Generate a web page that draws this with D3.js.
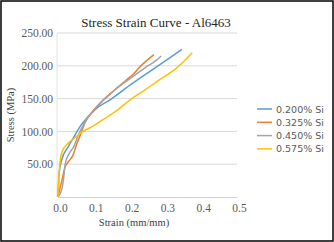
<!DOCTYPE html>
<html>
<head>
<meta charset="utf-8">
<script src="https://cdn.jsdelivr.net/npm/d3@7"></script>
<style>
  body { margin: 0; background: #fff; }
  svg { display: block; }
</style>
</head>
<body>
<svg width="334" height="242"></svg>
<script>
const width = 334;
const height = 242;

const seriesNames = ["0.200% Si", "0.325% Si", "0.450% Si", "0.575% Si"];
const seriesColors = ["#5b9bd5", "#ed7d31", "#a5a5a5", "#ffc000"];

// strain (mm/mm), stress (MPa)
const si200 = [[0,0],[0.003,36],[0.011,58],[0.028,76],[0.047,94],[0.061,107],[0.08,120],[0.105,134],[0.145,148],[0.2,170],[0.25,189],[0.304,209],[0.346,225]];
const si325 = [[0,0],[0.005,12],[0.012,28],[0.02,46],[0.028,53],[0.042,64],[0.053,82],[0.06,91],[0.075,113],[0.1,132],[0.126,147],[0.16,164],[0.19,178],[0.21,187],[0.228,198],[0.25,209],[0.268,217]];
const si450 = [[0,0],[0.006,5],[0.012,15],[0.016,30],[0.02,50],[0.03,65],[0.045,78],[0.055,92],[0.075,114],[0.1,133],[0.126,148],[0.165,166],[0.2,180],[0.243,197],[0.276,209],[0.288,215]];
const si575 = [[0,0],[0.002,25],[0.006,55],[0.012,70],[0.025,80],[0.042,88],[0.07,100],[0.094,107],[0.12,116],[0.16,130],[0.206,150],[0.24,162],[0.276,176],[0.33,196],[0.375,220]];
const allSeries = [si200, si325, si450, si575];

const xTicks = [0, 0.1, 0.2, 0.3, 0.4, 0.5];
const yTicks = [50, 100, 150, 200, 250];

const svg = d3.select("svg");

// outer frame
svg.append("rect")
    .attr("x", 1).attr("y", 1)
    .attr("width", width - 2).attr("height", height - 2)
    .attr("fill", "#fff")
    .attr("stroke", "#000")
    .attr("stroke-width", 1.5);

const x = d3.scaleLinear().domain([0, 0.5]).range([58, 237]);
const y = d3.scaleLinear().domain([0, 250]).range([197, 33]);

// gridlines
svg.append("g")
    .selectAll("line")
    .data(yTicks)
    .enter().append("line")
    .attr("x1", x(0) - 1).attr("x2", x(0.5))
    .attr("y1", d => y(d)).attr("y2", d => y(d))
    .attr("stroke", "#d9d9d9")
    .attr("stroke-width", 1);

svg.append("line")
    .attr("x1", x(0) - 1).attr("x2", x(0) - 1)
    .attr("y1", y(0)).attr("y2", y(250))
    .attr("stroke", "#e3e3e3");

const xAxis = svg.append("g")
    .attr("transform", `translate(0,${y(0)})`)
    .call(d3.axisBottom(x).tickValues(xTicks).tickSize(0).tickPadding(7).tickFormat(d3.format(".1f")));
xAxis.select(".domain").attr("stroke", "#d0d0d0");
xAxis.selectAll(".tick text").attr("dx", 2);

const yAxis = svg.append("g")
    .attr("transform", `translate(${x(0) - 3},0)`)
    .call(d3.axisLeft(y).tickValues(yTicks).tickSize(0).tickPadding(2).tickFormat(d3.format(".2f")));
yAxis.select(".domain").remove();

svg.selectAll(".tick text")
    .attr("font-family", "Liberation Serif, serif")
    .attr("font-size", 11.5)
    .attr("fill", "#595959");

// curves
const line = d3.line()
    .x(d => x(d[0]))
    .y(d => y(d[1]))
    .curve(d3.curveMonotoneX);

svg.append("g")
    .selectAll("path")
    .data(allSeries)
    .enter().append("path")
    .attr("d", line)
    .attr("fill", "none")
    .attr("stroke", (d, i) => seriesColors[i])
    .attr("stroke-width", 1.5)
    .attr("stroke-linejoin", "round");

// title and axis labels
svg.append("text")
    .attr("x", 156).attr("y", 27)
    .attr("text-anchor", "middle")
    .attr("font-family", "Liberation Serif, serif")
    .attr("font-size", 13)
    .attr("fill", "#262626")
    .text("Stress Strain Curve - Al6463");

svg.append("text")
    .attr("x", 134).attr("y", 226)
    .attr("text-anchor", "middle")
    .attr("font-family", "Liberation Serif, serif")
    .attr("font-size", 10.5)
    .attr("fill", "#404040")
    .text("Strain (mm/mm)");

svg.append("text")
    .attr("transform", "translate(14,115) rotate(-90)")
    .attr("text-anchor", "middle")
    .attr("font-family", "Liberation Serif, serif")
    .attr("font-size", 10.5)
    .attr("fill", "#404040")
    .text("Stress (MPa)");

// legend
const legend = svg.append("g")
    .selectAll("g")
    .data(seriesNames)
    .enter().append("g")
    .attr("transform", (d, i) => `translate(257,${109 + i * 13.3})`);

legend.append("line")
    .attr("x1", 0).attr("x2", 15)
    .attr("stroke", (d, i) => seriesColors[i])
    .attr("stroke-width", 1.5);

legend.append("text")
    .attr("x", 19).attr("y", 3.5)
    .attr("font-family", "DejaVu Sans, sans-serif")
    .attr("font-size", 9.5)
    .attr("fill", "#595959")
    .text(d => d);
</script>
</body>
</html>
